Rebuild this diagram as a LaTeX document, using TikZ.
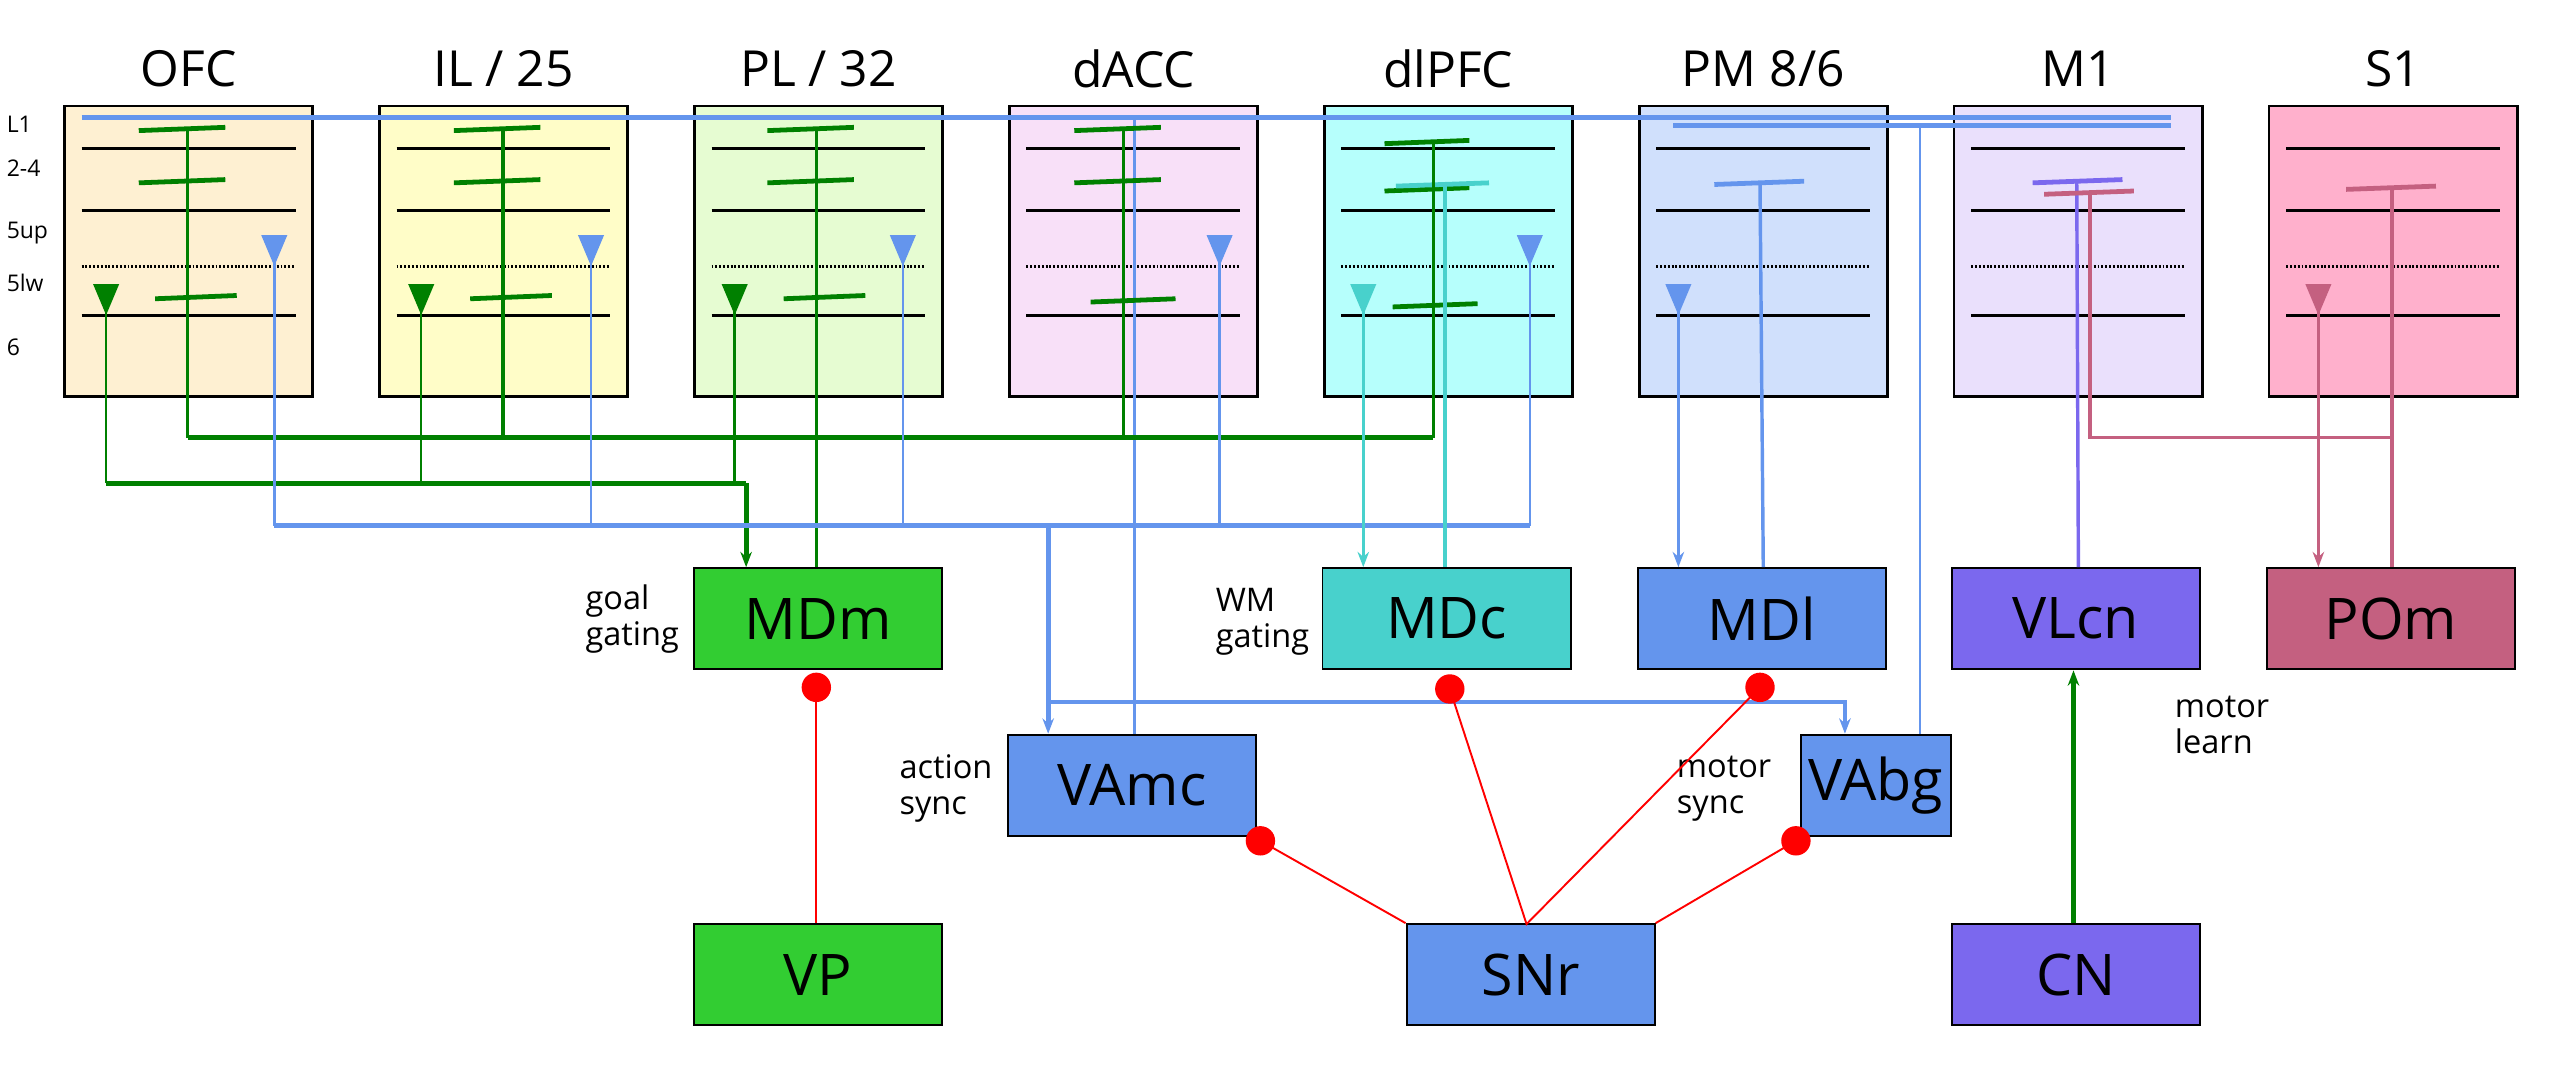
\documentclass[tikz,border=0pt]{standalone}
\usepackage{fontspec}
\setmainfont{Open Sans}
\usetikzlibrary{arrows.meta}
\definecolor{cblue}{RGB}{100,149,237}
\definecolor{cgreen}{RGB}{0,128,0}
\definecolor{cturq}{RGB}{72,209,204}
\definecolor{cpurp}{RGB}{123,104,238}
\definecolor{cpink}{RGB}{196,96,128}
\definecolor{flOFC}{RGB}{254,240,210}
\definecolor{flIL}{RGB}{255,253,200}
\definecolor{flPL}{RGB}{230,252,210}
\definecolor{fldACC}{RGB}{248,224,248}
\definecolor{fldlPFC}{RGB}{182,255,252}
\definecolor{flPM}{RGB}{208,224,252}
\definecolor{flMI}{RGB}{234,224,252}
\definecolor{flSI}{RGB}{255,176,204}
\tikzset{
  area/.style={draw,line width=1.4pt,minimum width=4.56cm,minimum height=5.34cm,inner sep=0pt},
  nucleus/.style={draw,line width=1pt,minimum width=4.56cm,minimum height=1.86cm,inner sep=0pt,font=\fontsize{30}{30}\selectfont},
  title/.style={font=\fontsize{26}{26}\selectfont},
  lbl/.style={font=\fontsize{17}{19}\selectfont,align=left},
  layer/.style={font=\fontsize{12}{12}\selectfont},
  tuft/.style={line width=2.5pt},
  axon/.style={line width=1.3pt},
  tract/.style={line width=2.5pt},
  inhib/.style={red,line width=1pt},
  tip/.style={-{Stealth[length=8pt,width=6pt]}},
}
\newcommand{\pyr}[3]{\fill[#1] (#2-8,#3) -- (#2+8,#3) -- (#2,#3+19) -- cycle;}
\begin{document}
\begin{tikzpicture}[x=0.03cm,y=-0.03cm]
  \useasboundingbox (0,0) rectangle (1568,655);

  % Cortical areas.
  \foreach \name/\txt/\k in {OFC/{OFC}/0,IL/{IL / 25}/1,PL/{PL / 32}/2,dACC/{dACC}/3,
      dlPFC/{dlPFC}/4,PM/{PM 8/6}/5,MI/{M1}/6,SI/{S1}/7} {
    \node[area,fill=fl\name] (\name) at (115.5+192.9*\k,154) {};
    \node[title] (\name-t) at (115.5+192.9*\k,42) {\txt};
    \draw[line width=1.5pt] (50+192.9*\k,91) -- ++(131,0)
      (50+192.9*\k,129) -- ++(131,0) (50+192.9*\k,193) -- ++(131,0);
    \draw[line width=1.5pt,dash pattern=on 1pt off 1pt] (50+192.9*\k,163) -- ++(131,0);
  }

  % Layer labels.
  \foreach \txt/\y in {L1/76,2-4/103,5up/143,5lw/173,6/213}
    \node[layer,anchor=west] (ly-\txt) at (0,\y) {\txt};

  % Thalamus and basal ganglia.
  \node[nucleus,fill={rgb,255:red,50;green,205;blue,50}] (MDm) at (501,379) {MDm};
  \node[nucleus,fill=cturq] (MDc) at (886,379) {MDc};
  \node[nucleus,fill=cblue] (MDl) at (1079,379) {MDl};
  \node[nucleus,fill=cpurp] (VLcn) at (1271.5,379) {VLcn};
  \node[nucleus,fill=cpink] (POm) at (1464.5,379) {POm};
  \node[nucleus,fill=cblue] (VAmc) at (693.5,481) {VAmc};
  \node[nucleus,fill=cblue,minimum width=2.76cm] (VAbg) at (1149,481) {VAbg};
  \node[nucleus,fill={rgb,255:red,50;green,205;blue,50}] (VP) at (501,597) {VP};
  \node[nucleus,fill=cblue] (SNr) at (937.5,597) {SNr};
  \node[nucleus,fill=cpurp] (CN) at (1271.5,597) {CN};

  % Labels.
  \node[lbl,anchor=east] (l-goal) at (420,379) {goal\\gating};
  \node[lbl,anchor=east] (l-wm) at (806,381) {WM\\gating};
  \node[lbl,anchor=east] (l-act) at (612,483) {action\\sync};
  \node[lbl] (l-msync) at (1056,483) {motor\\sync};
  \node[lbl,anchor=west] (l-mlearn) at (1328,444) {motor\\learn};

  % L1 matrix projections.
  \coordinate (l1a) at (50,72);
  \coordinate (l1b) at (1330,72);
  \coordinate (l1c) at (1025,77);
  \coordinate (l1d) at (1330,77);
  \draw[tract,cblue] (l1a) -- (l1b);
  \draw[tract,cblue] (l1c) -- (l1d);
  \draw[axon,cblue] (1176,77) -- (VAbg.north -| 1176,0);
  \draw[axon,cblue] (695,72) -- (VAmc.north -| 695,0);

  % Green apical dendrites, layer 6/5 PT cells.
  \foreach \x in {115,308,500,688} {
    \draw[tuft,cgreen] (\x-30,80) -- (\x+23,78) (\x-30,112) -- (\x+23,110);
  }
  \foreach \x in {115,308,500} \draw[tuft,cgreen] (\x-20,183) -- (\x+30,181);
  \draw[tuft,cgreen] (668,185) -- (720,183);
  \draw[tuft,cgreen] (848,88) -- (900,86) (848,117) -- (900,115) (853,188) -- (905,186);
  \draw[tract,cturq] (855,114) -- (912,112);
  \foreach \x in {115,308,688} \draw[axon,cgreen,line width=1.8pt] (\x,80) -- (\x,268);
  \draw[axon,cgreen,line width=1.8pt] (878,88) -- (878,268);
  \draw[tract,cgreen] (115,268) -- (878,268);
  \draw[axon,cgreen,line width=1.8pt] (500,80) -- (MDm.north -| 500,0);

  % Layer 5lw pyramids.
  \foreach \x in {65,258,450} {
    \pyr{cgreen}{\x}{174}
    \draw[axon,cgreen] (\x,190) -- (\x,296);
  }
  \draw[tract,cgreen] (65,296) -- (457,296);
  \draw[tract,cgreen,tip] (457,296) -- (MDm.north -| 457,0);

  % Layer 5up pyramids.
  \foreach \x in {168,362,553,747,937} {
    \pyr{cblue}{\x}{144}
    \draw[axon,cblue] (\x,160) -- (\x,322);
  }
  \draw[tract,cblue] (168,322) -- (937,322);
  \draw[tract,cblue,tip] (642,322) -- (VAmc.north -| 642,0);
  \draw[tract,cblue,tip] (642,430) -- (1130,430) -- (VAbg.north -| 1130,0);

  % dlPFC to MDc.
  \pyr{cturq}{835}{174}
  \draw[axon,cturq,tip] (835,190) -- (MDc.north -| 835,0);
  \draw[axon,cturq,line width=1.8pt] (885,113) -- (MDc.north -| 885,0);

  % PM to MDl.
  \pyr{cblue}{1028}{174}
  \draw[axon,cblue,tip] (1028,190) -- (MDl.north -| 1028,0);
  \draw[tract,cblue] (1050,113) -- (1105,111);
  \draw[axon,cblue,line width=1.8pt] (1078,112) -- (MDl.north -| 1080,0);

  % M1 and S1.
  \draw[tract,cpurp] (1245,112) -- (1300,110);
  \draw[axon,cpurp,line width=1.8pt] (1272,111) -- (VLcn.north -| 1273,0);
  \draw[tract,cpink] (1252,119) -- (1307,117);
  \draw[axon,cpink,line width=1.8pt] (1280,118) -- (1280,268) -- (1465,268);
  \draw[tract,cpink] (1437,116) -- (1492,114);
  \draw[axon,cpink,line width=1.8pt] (1465,115) -- (POm.north -| 1465,0);
  \pyr{cpink}{1420}{174}
  \draw[axon,cpink,tip] (1420,190) -- (POm.north -| 1420,0);

  % CN to VLcn.
  \draw[tract,cgreen,tip] (CN.north -| 1270,0) -- (VLcn.south -| 1270,0);

  % Inhibitory projections.
  \coordinate (d-MDm) at (500,421);
  \coordinate (d-MDc) at (888,422);
  \coordinate (d-MDl) at (1078,421);
  \coordinate (d-VAmc) at (772,515);
  \coordinate (d-VAbg) at (1100,515);
  \draw[inhib] (d-MDm) -- (VP.north -| 500,0);
  \draw[inhib] (d-MDc) -- (935,566) -- (d-MDl);
  \draw[inhib] (d-VAmc) -- (SNr.north west);
  \draw[inhib] (d-VAbg) -- (SNr.north east);
  \foreach \d in {d-MDm,d-MDc,d-MDl,d-VAmc,d-VAbg} \fill[red] (\d) circle [radius=9];
\end{tikzpicture}
\end{document}
